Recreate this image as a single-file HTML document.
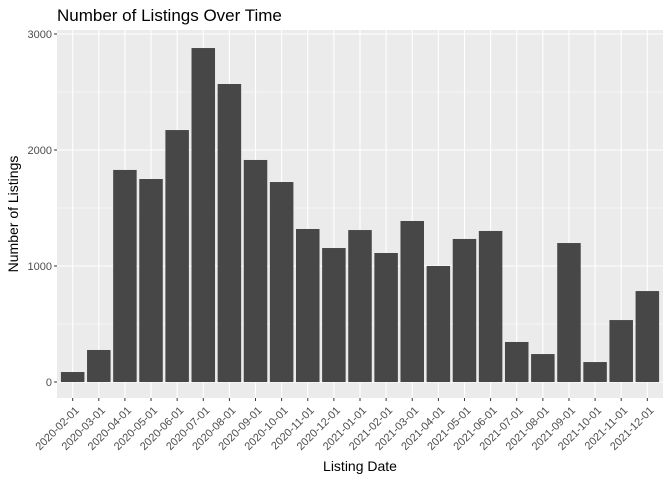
<!DOCTYPE html>
<html><head><meta charset="utf-8"><style>
body{margin:0;background:#fff;}
svg text{font-family:"Liberation Sans",sans-serif;}
</style></head><body>
<svg id="c" width="672" height="480" xmlns="http://www.w3.org/2000/svg">
<rect width="672" height="480" fill="#fff"/>
<text x="57" y="21" font-size="17" fill="#000">Number of Listings Over Time</text>
<rect id="panel" x="57" y="30" width="606" height="368" fill="#ebebeb"/>
<g id="grid"></g><g id="bars"></g><g id="axes"></g>
<text x="360" y="471" font-size="14" text-anchor="middle">Listing Date</text>
<text transform="translate(18,214) rotate(-90)" font-size="14" text-anchor="middle">Number of Listings</text>
</svg>
<script>
const categories=["2020-02-01","2020-03-01","2020-04-01","2020-05-01","2020-06-01","2020-07-01","2020-08-01","2020-09-01","2020-10-01","2020-11-01","2020-12-01","2021-01-01","2021-02-01","2021-03-01","2021-04-01","2021-05-01","2021-06-01","2021-07-01","2021-08-01","2021-09-01","2021-10-01","2021-11-01","2021-12-01"];
const values=[86,276,1828,1750,2172,2879,2569,1914,1724,1319,1155,1310,1112,1388,1000,1233,1302,345,241,1198,172,534,784];
const yTicks=[0,1000,2000,3000];
const yMinor=[500,1500,2500];
const NS="http://www.w3.org/2000/svg";
const px0=57,pw=606,py0=30,ph=368;
const n=categories.length;
const step=pw/(n+0.2);
function x(i){return px0+step*(i+0.6);}
function y(v){return 382-v*0.116;}
function mk(t,a,p){const e=document.createElementNS(NS,t);for(const k in a)e.setAttribute(k,a[k]);p.appendChild(e);return e;}
const grid=document.getElementById('grid'),bars=document.getElementById('bars'),axes=document.getElementById('axes');
yMinor.forEach(v=>{const l=mk('line',{x1:px0,x2:px0+pw,y1:y(v),y2:y(v),stroke:'#fff','stroke-width':0.5},grid);

});
yTicks.forEach(v=>{const l=mk('line',{x1:px0,x2:px0+pw,y1:y(v),y2:y(v),stroke:'#fff','stroke-width':1.1},grid);


const t=mk('line',{x1:px0-3,x2:px0,y1:y(v),y2:y(v),stroke:'#333','stroke-width':1},axes);


const tx=mk('text',{x:px0-5,y:y(v)+4,'font-size':11,'text-anchor':'end',fill:'#4d4d4d'},axes);tx.textContent=v;

});
categories.forEach((c,i)=>{const cx=x(i);
const g=mk('line',{x1:cx,x2:cx,y1:py0,y2:py0+ph,stroke:'#fff','stroke-width':1.1},grid);


const bw=step*0.9;
const b=mk('rect',{x:cx-bw/2,y:y(values[i]),width:bw,height:y(0)-y(values[i]),fill:'#474747'},bars);


const t=mk('line',{x1:cx,x2:cx,y1:py0+ph,y2:py0+ph+3,stroke:'#333','stroke-width':1},axes);


const tx=mk('text',{transform:`translate(${cx+7},${py0+ph+13}) rotate(-45)`,'font-size':11,'text-anchor':'end',fill:'#4d4d4d'},axes);tx.textContent=c;

});
</script>
</body></html>
